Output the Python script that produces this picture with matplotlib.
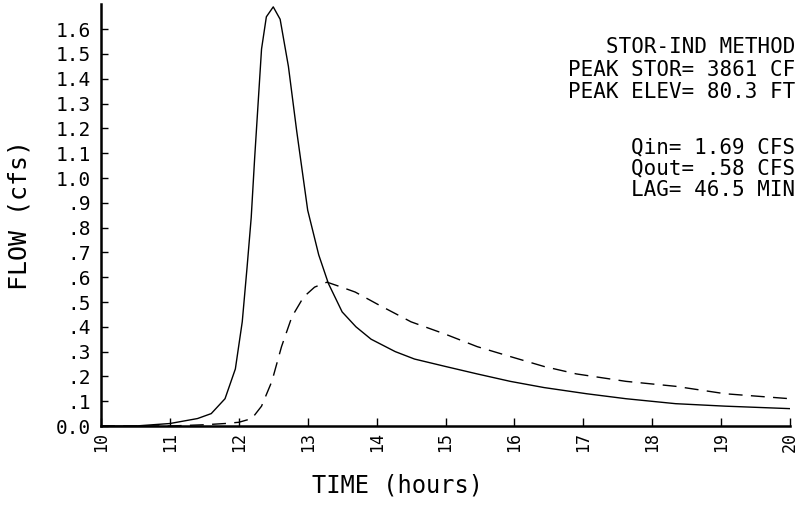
#!/usr/bin/env python3
import matplotlib

matplotlib.use("Agg")
import matplotlib.pyplot as plt

# inflow hydrograph (solid)
t_in = [10.0, 10.5, 11.0, 11.4, 11.6, 11.8, 11.95, 12.05, 12.12, 12.18, 12.23,
        12.28, 12.33, 12.40, 12.50, 12.60, 12.72, 12.84, 13.0, 13.16, 13.3,
        13.5, 13.7, 13.92, 14.27, 14.55, 15.0, 15.46, 15.94, 16.43, 17.05,
        17.62, 18.34, 19.06, 20.0]
q_in = [0.0, 0.0, 0.01, 0.03, 0.05, 0.11, 0.23, 0.42, 0.64, 0.84, 1.08,
        1.30, 1.52, 1.65, 1.69, 1.64, 1.45, 1.19, 0.87, 0.69, 0.575,
        0.46, 0.40, 0.35, 0.30, 0.27, 0.24, 0.21, 0.18, 0.155, 0.13,
        0.11, 0.09, 0.08, 0.07]

# outflow hydrograph (dashed)
t_out = [10.0, 11.0, 11.5, 11.8, 12.0, 12.19, 12.33, 12.48, 12.62, 12.77,
         12.94, 13.1, 13.28, 13.49, 13.69, 14.02, 14.5, 15.0, 15.46, 15.94,
         16.43, 16.9, 17.62, 18.34, 19.06, 20.0]
q_out = [0.0, 0.0, 0.005, 0.01, 0.015, 0.03, 0.08, 0.18, 0.32, 0.44,
         0.52, 0.56, 0.58, 0.56, 0.54, 0.49, 0.42, 0.37, 0.32, 0.28,
         0.24, 0.21, 0.18, 0.16, 0.13, 0.11]

x_ticks = list(range(10, 21))
y_ticks = [i / 10 for i in range(17)]
y_labels = ["0.0", ".1", ".2", ".3", ".4", ".5", ".6", ".7", ".8", ".9",
            "1.0", "1.1", "1.2", "1.3", "1.4", "1.5", "1.6"]

info_lines = [
    ("STOR-IND METHOD", 47),
    ("PEAK STOR= 3861 CF", 70),
    ("PEAK ELEV= 80.3 FT", 92),
    ("Qin= 1.69 CFS", 147),
    ("Qout= .58 CFS", 168),
    ("LAG= 46.5 MIN", 190),
]

MONO = "DejaVu Sans Mono"
W, H = 799, 529

fig = plt.figure(figsize=(W / 100, H / 100), dpi=100)
ax = fig.add_axes([101 / W, 1 - 426 / H, 689 / W, 421.6 / H])

ax.plot(t_in, q_in, color="black", lw=1.0)
ax.plot(t_out, q_out, color="black", lw=1.0, dashes=(10, 6))

ax.set_xlim(10, 20)
ax.set_ylim(0, 1.7)
for side in ("top", "right"):
    ax.spines[side].set_visible(False)
for side in ("left", "bottom"):
    ax.spines[side].set_linewidth(1.8)

ax.set_xticks(x_ticks)
ax.set_xticklabels([str(v) for v in x_ticks], rotation=90, family=MONO,
                   fontsize=12, va="top", ha="center")
ax.set_yticks(y_ticks)
ax.set_yticklabels(y_labels, family=MONO, fontsize=14)
ax.tick_params(axis="x", direction="in", length=6, width=1, pad=4)
ax.tick_params(axis="y", direction="in", length=5, width=1, pad=7)

fig.text(20 / W, 1 - 215 / H, "FLOW (cfs)", rotation=90, family=MONO,
         fontsize=18, ha="center", va="center")
fig.text(398 / W, 1 - 485 / H, "TIME (hours)", family=MONO,
         fontsize=17, ha="center", va="center")

for text, py in info_lines:
    fig.text(795 / W, 1 - py / H, text, family=MONO, fontsize=15,
             ha="right", va="center")

fig.savefig("out.png", dpi=100)
